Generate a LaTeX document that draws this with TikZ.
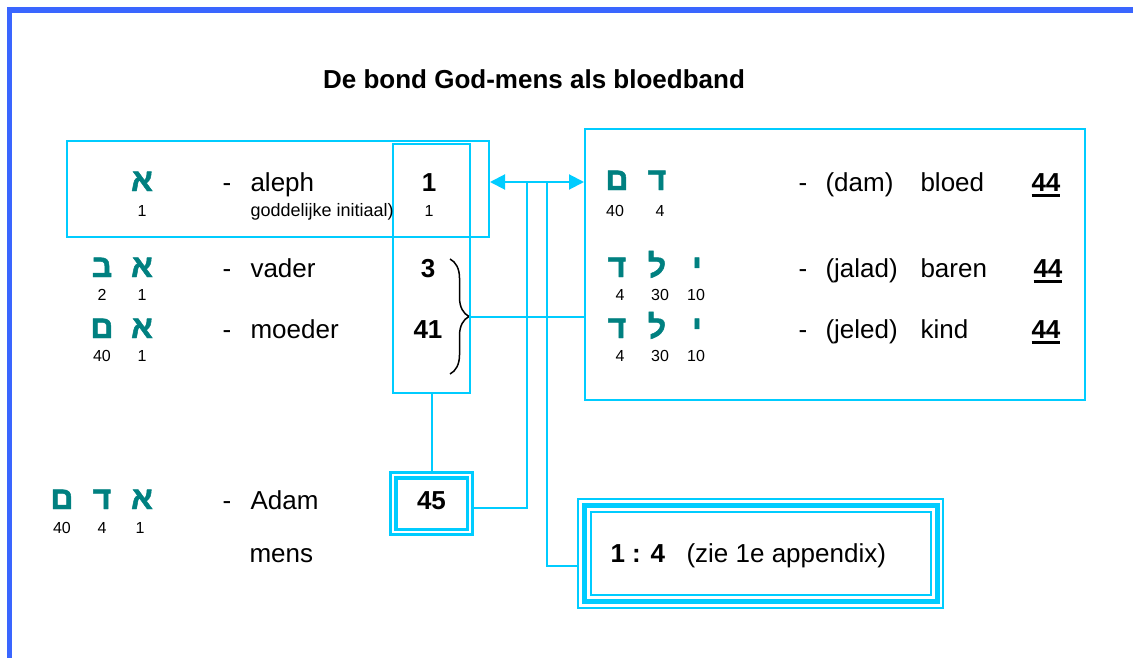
\documentclass[tikz,border=0pt]{standalone}
\usepackage{fontspec}
\setmainfont{Liberation Sans}
\newfontfamily\hebfont[Script=Hebrew, FakeBold=1.5]{Liberation Sans Bold}
\TeXXeTstate=1
\usepackage{tikz}
\usetikzlibrary{arrows.meta, decorations.pathreplacing}

\definecolor{framebl}{RGB}{58,102,255}
\definecolor{linecyan}{RGB}{0,204,255}
\definecolor{hebteal}{RGB}{0,128,128}

\newcommand{\heb}[1]{\hebfont\beginR #1\endR}
\newcommand{\undl}[1]{\setbox0=\hbox{#1}\dimen0=\wd0 \box0\kern-\dimen0\vrule width\dimen0 height -3pt depth 6pt}

\begin{document}
\begin{tikzpicture}[x=1pt, y=-1pt,
  box/.style={draw=linecyan, line width=2pt, inner sep=0pt},
  conn/.style={draw=linecyan, line width=2pt},
  arr/.style={{Triangle[length=15pt,width=15pt]}-{Triangle[length=15pt,width=15pt]}, draw=linecyan, fill=linecyan, line width=2pt},
  letter/.style={anchor=base, text=hebteal, font=\fontsize{32}{36}\selectfont},
  num/.style={anchor=base, font=\fontsize{16}{18}\selectfont},
  word/.style={anchor=base west, font=\fontsize{26}{30}\selectfont},
  dsh/.style={anchor=base, font=\fontsize{26}{30}\selectfont},
  val/.style={anchor=base, font=\fontsize{26}{30}\selectfont\bfseries}
]
  \useasboundingbox (0,0) rectangle (1133,658);
  % frame (top and left only)
  \draw[framebl, line width=5.5pt] (9.5,658) -- (9.5,10) -- (1133,10);

  \node[anchor=base, font=\fontsize{26}{30}\selectfont\bfseries] (title) at (534,89) {De bond God-mens als bloedband};

  % boxes
  \node[box, minimum width=422pt, minimum height=96pt]  (alephbox) at (278,189) {};
  \node[box, minimum width=77pt,  minimum height=249pt] (column)   at (431.5,268.5) {};
  \node[box, minimum width=500pt, minimum height=271pt] (rightbox) at (835,264.5) {};
  \node[box, line width=2.5pt, minimum width=82pt, minimum height=62pt] (adam45) at (431.5,503.5) {};
  \draw[linecyan, line width=3.5pt] ([shift={(6.5,6.5)}]adam45.north west) rectangle ([shift={(-6.5,-6.5)}]adam45.south east);
  \node[box, minimum width=365pt, minimum height=109pt] (ratio) at (760.5,553.5) {};
  \draw[linecyan, line width=5pt] ([shift={(7,7.5)}]ratio.north west) rectangle ([shift={(-7,-7.5)}]ratio.south east);
  \draw[linecyan, line width=2pt] ([shift={(13.5,14)}]ratio.north west) rectangle ([shift={(-13.5,-14.5)}]ratio.south east);

  % aleph
  \node[letter] (al1) at (142,191) {\heb{א}};
  \node[num] at (142,216) {1};
  \node[dsh] at (227,191) {-};
  \node[word] (aleph) at (247,191) {aleph};
  \node[word, font=\fontsize{18}{20}\selectfont] (initiaal) at (247,216) {goddelijke initiaal)};
  \node[val] (v1) at (429,191) {1};
  \node[num] at (429,216) {1};

  % vader
  \node[letter] (av2) at (102,277) {\heb{ב}};
  \node[letter] (av1) at (142,277) {\heb{א}};
  \node[num] at (102,300) {2};
  \node[num] at (142,300) {1};
  \node[dsh] at (227,277) {-};
  \node[word] (vader) at (247,277) {vader};
  \node[val] (v3) at (428,277) {3};

  % moeder
  \node[letter] (am2) at (102,338) {\heb{ם}};
  \node[letter] (am1) at (142,338) {\heb{א}};
  \node[num] at (102,361) {40};
  \node[num] at (142,361) {1};
  \node[dsh] at (227,338) {-};
  \node[word] (moeder) at (247,338) {moeder};
  \node[val] (v41) at (428,338) {41};

  % Adam
  \node[letter] (ad3) at (62,509)  {\heb{ם}};
  \node[letter] (ad2) at (102,509) {\heb{ד}};
  \node[letter] (ad1) at (142,509) {\heb{א}};
  \node[num] at (62,533)  {40};
  \node[num] at (102,533) {4};
  \node[num] at (140,533) {1};
  \node[dsh] at (227,509) {-};
  \node[word] (adam) at (247,509) {Adam};
  \node[word] (mens) at (246,562) {mens};
  \node[val] (v45) at (431.5,509) {45};

  % right box rows
  \node[letter] (dm2) at (617,190) {\heb{ם}};
  \node[letter] (dm1) at (657,190) {\heb{ד}};
  \node[num] at (615,216) {40};
  \node[num] at (660,216) {4};
  \node[dsh] at (803,191) {-};
  \node[word] at (822,191) {(dam)};
  \node[word] at (917,191) {bloed};
  \node[word, font=\fontsize{26}{30}\selectfont\bfseries] at (1028,191) {\undl{44}};

  \node[letter] (jl3) at (617,277) {\heb{ד}};
  \node[letter] (jl2) at (657,277) {\heb{ל}};
  \node[letter] (jl1) at (697,277) {\heb{י}};
  \node[num] at (620,300) {4};
  \node[num] at (660,300) {30};
  \node[num] at (696,300) {10};
  \node[dsh] at (803,277) {-};
  \node[word] at (822,277) {(jalad)};
  \node[word] at (917,277) {baren};
  \node[word, font=\fontsize{26}{30}\selectfont\bfseries] at (1030,277) {\undl{44}};

  \node[letter] (je3) at (617,338) {\heb{ד}};
  \node[letter] (je2) at (657,338) {\heb{ל}};
  \node[letter] (je1) at (697,338) {\heb{י}};
  \node[num] at (620,361) {4};
  \node[num] at (660,361) {30};
  \node[num] at (696,361) {10};
  \node[dsh] at (803,338) {-};
  \node[word] at (822,338) {(jeled)};
  \node[word] at (917,338) {kind};
  \node[word, font=\fontsize{26}{30}\selectfont\bfseries] at (1028,338) {\undl{44}};

  % ratio text
  \node[word, font=\fontsize{26}{30}\selectfont\bfseries] (r14) at (607,562) {1 : 4};
  \node[word] (appx) at (683,562) {(zie 1e appendix)};

  % brace and connectors
  \draw[decorate, decoration={brace, amplitude=19pt}, line width=1.5pt] (450,259) -- (450,374);
  \coordinate (tip) at (469,317);
  \coordinate (ja) at (527,182);
  \coordinate (jb) at (547,182);
  \draw[arr] (alephbox.east |- ja) -- (rightbox.west |- ja);
  \draw[conn] (tip) -- (rightbox.west |- tip);
  \draw[conn] (column.south) -- (adam45.north);
  \draw[conn] (ja) |- ([yshift=-4pt]adam45.east);
  \draw[conn] (jb) |- ([yshift=-12pt]ratio.west);
\end{tikzpicture}
\end{document}
